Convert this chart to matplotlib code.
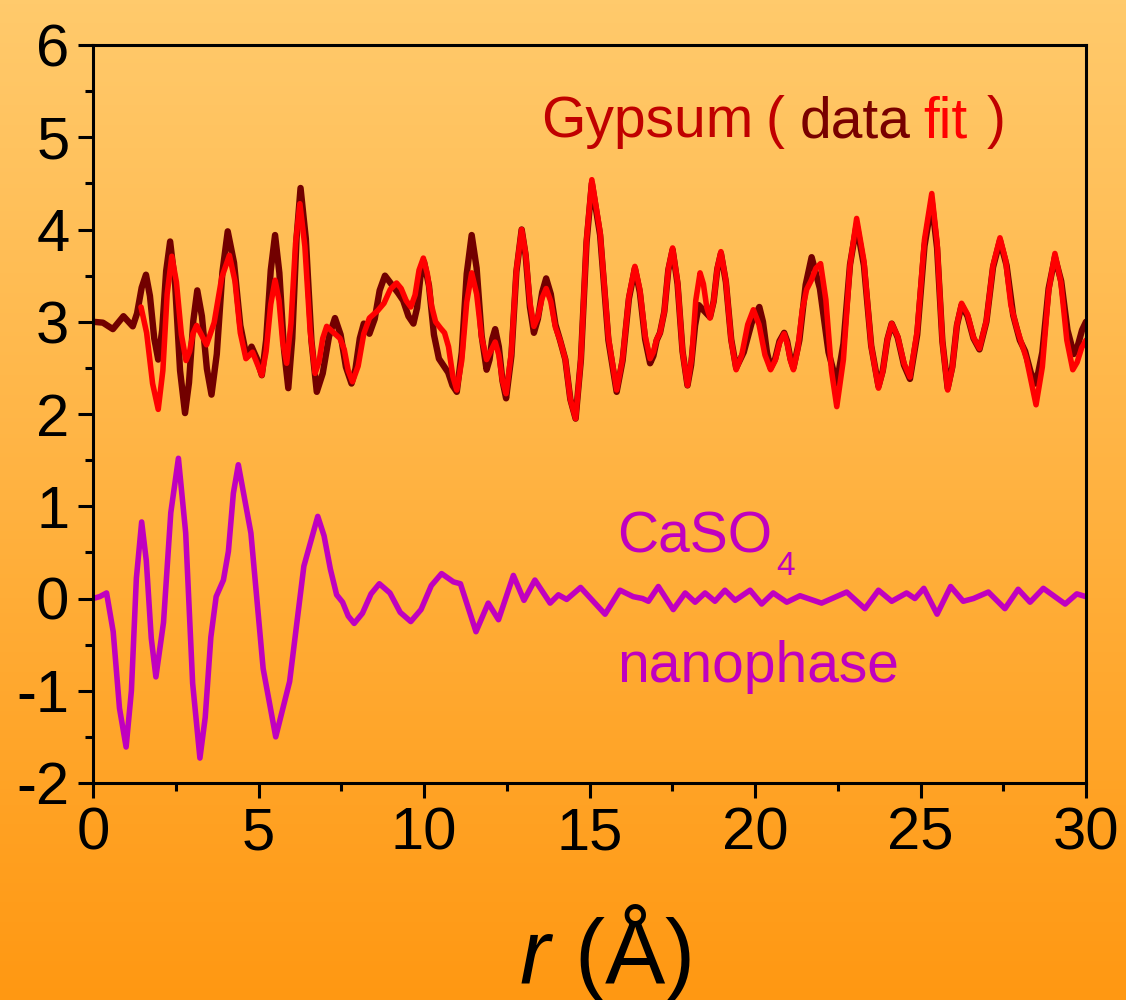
import matplotlib
matplotlib.use('Agg')
import matplotlib.pyplot as plt
import numpy as np
from matplotlib.colors import LinearSegmentedColormap

r_data = [0, 0.3, 0.6, 0.92, 1.2, 1.33, 1.47, 1.6, 1.72, 1.85, 1.97, 2.09, 2.21, 2.33,
          2.48, 2.63, 2.78, 2.9, 3.03, 3.15, 3.29, 3.44, 3.58, 3.74, 3.91, 4.07, 4.26,
          4.45, 4.64, 4.79, 4.95, 5.1, 5.23, 5.37, 5.5, 5.63, 5.77, 5.9, 6.02, 6.15, 6.27,
          6.43, 6.6, 6.76, 6.94, 7.13, 7.31, 7.48, 7.64, 7.81, 7.93, 8.06, 8.18, 8.35,
          8.51, 8.66, 8.82, 9.22, 9.37, 9.53, 9.68, 9.79, 9.89, 10.0, 10.15, 10.3, 10.45,
          10.6, 10.73, 10.86, 10.99, 11.14, 11.29, 11.44, 11.59, 11.74, 11.89, 11.98,
          12.06, 12.15, 12.26, 12.37, 12.48, 12.64, 12.79, 12.95, 13.07, 13.2, 13.32,
          13.44, 13.57, 13.69, 13.83, 13.97, 14.11, 14.27, 14.42, 14.58, 14.74, 14.91,
          15.07, 15.32, 15.57, 15.82, 16.0, 16.19, 16.37, 16.52, 16.68, 16.83, 16.93,
          17.03, 17.13, 17.26, 17.38, 17.51, 17.66, 17.81, 17.96, 18.07, 18.19, 18.3,
          18.64, 18.75, 18.86, 18.97, 19.12, 19.28, 19.43, 19.66, 19.9, 20.13, 20.24,
          20.36, 20.47, 20.61, 20.74, 20.88, 20.97, 21.07, 21.16, 21.34, 21.53, 21.71,
          21.96, 22.22, 22.47, 22.67, 22.87, 23.07, 23.29, 23.51, 23.73, 23.86, 24.0,
          24.13, 24.31, 24.5, 24.68, 24.9, 25.12, 25.34, 25.5, 25.66, 25.82, 25.96, 26.1,
          26.24, 26.42, 26.6, 26.78, 26.99, 27.19, 27.4, 27.6, 27.8, 28.0, 28.16, 28.33,
          28.49, 28.68, 28.87, 29.06, 29.25, 29.44, 29.63, 29.75, 29.88, 30.0]
g_data = [3.0, 2.99, 2.92, 3.06, 2.95, 3.09, 3.37, 3.51, 3.28, 2.82, 2.59, 2.91, 3.55, 3.87,
          3.41, 2.47, 2.01, 2.34, 3.01, 3.34, 3.06, 2.49, 2.21, 2.65, 3.54, 3.98, 3.64,
          2.96, 2.62, 2.73, 2.6, 2.42, 2.8, 3.56, 3.94, 3.53, 2.7, 2.28, 2.82, 3.91, 4.45,
          3.9, 2.79, 2.24, 2.44, 2.84, 3.04, 2.86, 2.51, 2.33, 2.49, 2.82, 2.98, 2.87,
          3.03, 3.34, 3.5, 3.31, 3.23, 3.06, 2.98, 3.15, 3.48, 3.65, 3.39, 2.86, 2.6,
          2.52, 2.45, 2.31, 2.24, 2.67, 3.52, 3.94, 3.58, 2.85, 2.48, 2.59,
          2.81, 2.92, 2.73, 2.36, 2.17, 2.63, 3.54, 4.0, 3.72, 3.16, 2.88,
          3.03, 3.32, 3.47, 3.3, 2.97, 2.8, 2.59, 2.16, 1.95, 2.59, 3.86,
          4.5, 3.94, 2.8, 2.24, 2.58, 3.25, 3.58, 3.32, 2.81, 2.55, 2.63,
          2.8, 2.88, 3.11, 3.56, 3.78, 3.41, 2.68, 2.31, 2.53, 2.96, 3.18,
          3.05, 3.22, 3.57, 3.74, 3.43, 2.81, 2.5, 2.67, 2.99, 3.16, 3.0,
          2.67, 2.5, 2.6, 2.79, 2.88, 2.79, 2.6, 2.5, 2.8, 3.4, 3.7,
          3.36, 2.67, 2.33, 2.76, 3.62, 4.05, 3.61, 2.74, 2.3, 2.47, 2.81,
          2.98, 2.83, 2.53, 2.38, 2.86, 3.82, 4.3, 3.8, 2.79, 2.28, 2.51, 2.96,
          3.18, 3.06, 2.82, 2.7, 3.0, 3.59, 3.88, 3.61, 3.07, 2.8, 2.68, 2.45,
          2.33, 2.67, 3.36, 3.7, 3.44, 2.91, 2.65, 2.74, 2.91, 3.0]

# gypsum fit (starts ~1.45 A)
r_fit = [1.45, 1.62, 1.8, 1.97, 2.11, 2.24, 2.38, 2.52, 2.67, 2.81, 2.92, 3.02, 3.13, 3.43,
         3.66, 3.89, 4.12, 4.29, 4.45, 4.62, 4.82, 5.1, 5.23, 5.37, 5.5, 5.62, 5.73, 5.85,
         5.98, 6.12, 6.25, 6.4, 6.56, 6.71, 6.83, 6.94, 7.06, 7.46, 7.59, 7.71, 7.84, 8.01,
         8.18, 8.35, 8.6, 8.79, 8.98, 9.17, 9.31, 9.46, 9.6, 9.73, 9.85, 9.98, 10.1, 10.23,
         10.35, 10.5, 10.62, 10.74, 10.87, 10.99, 11.14, 11.29, 11.44, 11.59, 11.74,
         11.89, 12.15, 12.26, 12.37, 12.48, 12.64, 12.79, 12.95, 13.07, 13.2, 13.32,
         13.44, 13.57, 13.69, 13.83, 13.97, 14.11, 14.27, 14.42, 14.58, 14.74, 14.91,
         15.07, 15.32, 15.57, 15.82, 16.0, 16.19, 16.37, 16.52, 16.68, 16.83, 16.93,
         17.03, 17.13, 17.26, 17.38, 17.51, 17.66, 17.81, 17.96, 18.09, 18.21, 18.34,
         18.44, 18.54, 18.64, 18.75, 18.86, 18.97, 19.12, 19.28, 19.43, 19.6, 19.78,
         19.95, 20.12, 20.3, 20.47, 20.61, 20.74, 20.88, 20.97, 21.07, 21.16, 21.29,
         21.43, 21.56, 21.7, 21.84, 21.98, 22.14, 22.31, 22.47, 22.67, 22.87, 23.07,
         23.29, 23.51, 23.73, 23.86, 24.0, 24.13, 24.31, 24.5, 24.68, 24.9, 25.12,
         25.34, 25.5, 25.66, 25.82, 25.96, 26.1, 26.24, 26.42, 26.6, 26.78, 26.99,
         27.19, 27.4, 27.57, 27.73, 27.9, 28.2, 28.49, 28.68, 28.87, 29.06, 29.24,
         29.42, 29.6, 29.73, 29.87, 30.0]
g_fit = [3.16, 2.88, 2.33, 2.05, 2.47, 3.3, 3.71, 3.43, 2.86, 2.58, 2.68, 2.87, 2.96, 2.75,
         2.99, 3.48, 3.72, 3.44, 2.88, 2.6, 2.67, 2.42, 2.68, 3.19, 3.45, 3.23, 2.78, 2.55,
         2.98, 3.85, 4.28, 3.82, 2.9, 2.44, 2.57, 2.82, 2.95, 2.82, 2.7, 2.47, 2.35, 2.52,
         2.87, 3.04, 3.12, 3.2, 3.35, 3.42, 3.36, 3.23, 3.16, 3.29, 3.56, 3.69, 3.52, 3.17,
         3.0, 2.93, 2.88, 2.73, 2.41, 2.26, 2.58, 3.21, 3.53, 3.3, 2.83,
         2.59, 2.78, 2.64, 2.36, 2.22, 2.67, 3.56, 4.0, 3.74, 3.21, 2.95,
         3.05, 3.26, 3.36, 3.22, 2.94, 2.8, 2.59, 2.16, 1.95, 2.6, 3.89,
         4.54, 3.97, 2.83, 2.26, 2.6, 3.27, 3.6, 3.35, 2.85, 2.6, 2.67,
         2.81, 2.88, 3.11, 3.57, 3.8, 3.43, 2.68, 2.31, 2.62, 3.23, 3.53,
         3.41, 3.16, 3.04, 3.22, 3.58, 3.76, 3.44, 2.8, 2.48, 2.64, 2.97,
         3.13, 2.97, 2.64, 2.48, 2.58, 2.77, 2.87, 2.77, 2.58, 2.48, 2.7,
         3.13, 3.35, 3.45, 3.58, 3.63, 3.24, 2.47, 2.08, 2.59, 3.61, 4.12,
         3.66, 2.74, 2.28, 2.46, 2.81, 2.98, 2.84, 2.55, 2.4, 2.9, 3.89,
         4.39, 3.86, 2.79, 2.26, 2.5, 2.97, 3.2, 3.08, 2.83, 2.71, 3.01,
         3.61, 3.91, 3.67, 3.18, 2.94, 2.6, 2.1, 2.51, 3.33, 3.74, 3.43,
         2.8, 2.48, 2.56, 2.72, 2.8]

# CaSO4 nanophase
r_nano = [0, 0.2, 0.41, 0.61, 0.8, 1.0, 1.16, 1.31, 1.47, 1.61, 1.76, 1.9, 2.13, 2.35, 2.58,
          2.8, 3.01, 3.23, 3.39, 3.56, 3.72, 3.94, 4.09, 4.24, 4.39, 4.77, 5.14, 5.52, 5.94,
          6.37, 6.79, 6.98, 7.17, 7.36, 7.54, 7.71, 7.89, 8.14, 8.4, 8.65, 8.97, 9.28, 9.6,
          9.91, 10.22, 10.53, 10.89, 11.1, 11.57, 11.94, 12.25, 12.7, 13.02,
          13.35, 13.81, 14.06, 14.31, 14.73, 15.47, 15.92, 16.32, 16.6, 16.78, 17.08,
          17.53, 17.89, 18.19, 18.49, 18.79, 19.09, 19.4, 19.85, 20.2, 20.55, 20.96,
          21.36, 22.01, 22.77, 23.32, 23.73, 24.13, 24.58, 24.83, 25.1, 25.5, 25.91,
          26.29, 26.6, 27.05, 27.55, 27.95, 28.31, 28.71, 29.37, 29.72, 30.0]
g_nano = [0.0, 0.02, 0.06, -0.36, -1.19, -1.61, -1.0, 0.22, 0.83, 0.41, -0.43, -0.85, -0.26,
          0.93, 1.52, 0.71, -0.92, -1.73, -1.29, -0.42, 0.02, 0.2, 0.51, 1.14, 1.45, 0.71,
          -0.76, -1.5, -0.9, 0.35, 0.89, 0.68, 0.32, 0.04, -0.04, -0.19, -0.27, -0.16, 0.05,
          0.16, 0.06, -0.15, -0.25, -0.12, 0.14, 0.27, 0.18, 0.16, -0.36, -0.05, -0.23,
          0.25, -0.02, 0.2, -0.05, 0.04, -0.01, 0.12, -0.17, 0.09, 0.02, 0.0, -0.03, 0.13,
          -0.12, 0.06, -0.04, 0.06, -0.03, 0.09, -0.02, 0.09, -0.06, 0.06, -0.04,
          0.03, -0.05, 0.07, -0.11, 0.09, -0.03, 0.06, 0.0, 0.11, -0.17, 0.13,
          -0.03, 0.0, 0.07, -0.11, 0.10, -0.04, 0.11, -0.06, 0.05, 0.02]

plt.rcParams['font.family'] = ['Liberation Sans', 'DejaVu Sans']
plt.rcParams['mathtext.fontset'] = 'custom'
plt.rcParams['mathtext.rm'] = 'Liberation Sans'
plt.rcParams['mathtext.it'] = 'Liberation Sans:italic'
plt.rcParams['axes.unicode_minus'] = False

fig = plt.figure(figsize=(11.26, 10), dpi=100)

# orange gradient background
bg = fig.add_axes([0, 0, 1, 1], zorder=0)
cmap = LinearSegmentedColormap.from_list('bg', ['#FF9812', '#FFB240', '#FFCA6C'])
bg.imshow(np.linspace(0, 1, 256).reshape(-1, 1), aspect='auto', cmap=cmap,
          origin='lower', extent=[0, 1, 0, 1])
bg.axis('off')

ax = fig.add_axes([0.0826, 0.217, 0.8819, 0.738], zorder=1)
ax.patch.set_alpha(0)

ax.plot(r_data, g_data, color='#720000', lw=4.6, solid_joinstyle='round', solid_capstyle='round')
ax.plot(r_fit, g_fit, color='#FF0000', lw=4.0, solid_joinstyle='round', solid_capstyle='round')
ax.plot(r_nano, g_nano, color='#C000C0', lw=4.0, solid_joinstyle='round', solid_capstyle='round')

ax.set_xlim(0, 30)
ax.set_ylim(-2, 6)
ax.set_xticks(range(0, 31, 5))
ax.set_xticks(np.arange(2.5, 30, 5), minor=True)
ax.set_yticks(range(-2, 7))
ax.set_yticks(np.arange(-1.5, 6, 1), minor=True)
for s in ax.spines.values():
    s.set_linewidth(2.2)
ax.tick_params(which='major', direction='out', length=11, width=2.2, labelsize=43, pad=6,
               top=False, right=False)
ax.tick_params(which='minor', direction='out', length=5.5, width=2.2, top=False, right=False)

# labels
tk = dict(fontsize=41, va='baseline', ha='left')
ax.text(13.53, 5.0, 'Gypsum', color='#C00000', **tk)
ax.text(20.33, 5.0, '(', color='#C00000', **tk)
ax.text(21.36, 5.0, 'data', color='#780000', **tk)
ax.text(25.08, 5.0, 'fit', color='#FF0000', **tk)
ax.text(27.0, 5.0, ')', color='#C00000', **tk)

ax.text(15.83, 0.5, 'CaSO', color='#C000C0', **tk)
ax.text(20.65, 0.255, '4', color='#C000C0', fontsize=24, va='baseline', ha='left')
ax.text(15.83, -0.9, 'nanophase', color='#C000C0', **tk)

fig.text(605 / 1126, 0.017, r'$\mathit{r}$ (Å)', fontsize=65, ha='center', va='baseline')

fig.savefig('out.png', dpi=100)
